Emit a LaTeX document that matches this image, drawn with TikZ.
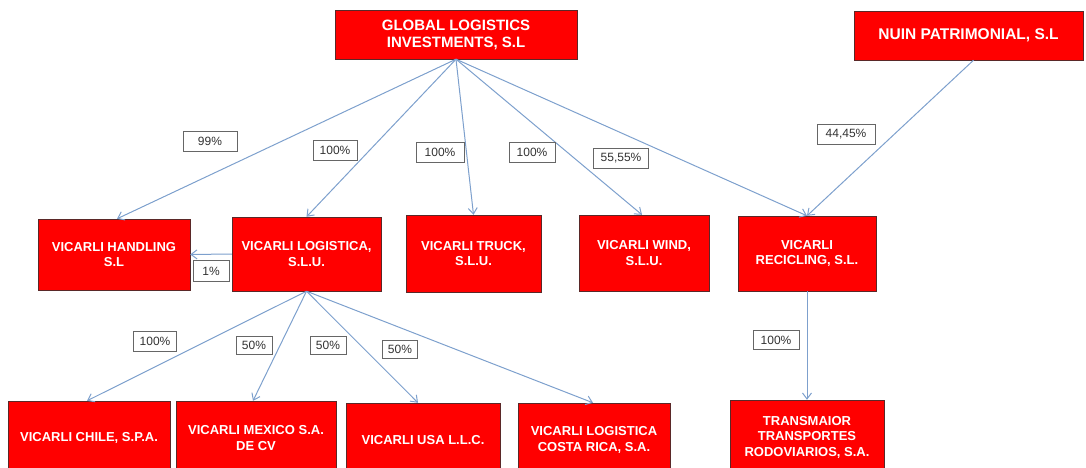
\documentclass[tikz,border=0pt]{standalone}
\usepackage{fontspec}
\setmainfont{Liberation Sans}
\usepackage{xcolor}
\usetikzlibrary{arrows.meta}

\definecolor{boxred}{RGB}{255,0,0}
\definecolor{boxline}{RGB}{90,40,40}
\definecolor{linkblue}{RGB}{125,160,205}

\begin{document}
\begin{tikzpicture}[
    x=1pt, y=-1pt,
    company/.style={
        rectangle,
        draw=boxline,
        fill=boxred,
        text=white,
        font=\fontsize{13}{15.5}\selectfont\bfseries,
        align=center,
        inner sep=0pt
    },
    share/.style={
        -{Straight Barb[length=6pt, width=9pt]},
        linkblue,
        line width=1pt
    },
    pct/.style={
        rectangle,
        draw=black!60,
        fill=white,
        line width=0.9pt,
        font=\fontsize{12}{13}\selectfont,
        text=black!80,
        inner sep=0pt
    }
]
\useasboundingbox (0,0) rectangle (1086,468);
\clip (0,0) rectangle (1086,468);

% Companies
\node[company, minimum width=242, minimum height=49, font=\fontsize{15}{17}\selectfont\bfseries] (global) at (456,34.5) {GLOBAL LOGISTICS\\INVESTMENTS, S.L};
\node[company, minimum width=229, minimum height=49, font=\fontsize{15.5}{17}\selectfont\bfseries] (nuin) at (968.5,35.5) {NUIN PATRIMONIAL, S.L};

\node[company, minimum width=152, minimum height=71] (handling) at (114,254.5) {VICARLI HANDLING\\S.L};
\node[company, minimum width=149, minimum height=74] (logistica) at (306.5,254) {VICARLI LOGISTICA,\\S.L.U.};
\node[company, minimum width=135, minimum height=77] (truck) at (473.5,253.5) {VICARLI TRUCK,\\S.L.U.};
\node[company, minimum width=130, minimum height=76] (wind) at (644,253) {VICARLI WIND,\\S.L.U.};
\node[company, minimum width=138, minimum height=75] (recicling) at (807,253.5) {VICARLI\\RECICLING, S.L.};

\node[company, minimum width=162, minimum height=74] (chile) at (89,438) {VICARLI CHILE, S.P.A.};
\node[company, minimum width=160, minimum height=74] (mexico) at (256,438) {VICARLI MEXICO S.A.\\DE CV};
\node[company, minimum width=154, minimum height=74] (usa) at (423,440) {VICARLI USA L.L.C.};
\node[company, minimum width=152, minimum height=74] (costa) at (594,440) {VICARLI LOGISTICA\\COSTA RICA, S.A.};
\node[company, minimum width=154, minimum height=74] (transmaior) at (807,437) {TRANSMAIOR\\TRANSPORTES\\RODOVIARIOS, S.A.};

% Shareholdings
\draw[share] (global.south) -- ([xshift=3]handling.north);
\draw[share] (global.south) -- (logistica.north);
\draw[share] (global.south) -- (truck.north);
\draw[share] (global.south) -- ([xshift=-2]wind.north);
\draw[share] (global.south) -- (recicling.north);
\draw[share] ([xshift=5]nuin.south) -- (recicling.north);
\draw[share] (logistica.west) -- (handling.east);
\draw[share] (logistica.south) -- ([xshift=-2]chile.north);
\draw[share] (logistica.south) -- ([xshift=-3]mexico.north);
\draw[share] (logistica.south) -- ([xshift=-5]usa.north);
\draw[share] (logistica.south) -- ([xshift=-1]costa.north);
\draw[share] (recicling.south) -- (transmaior.north);

% Percentages
\node[pct, minimum width=54, minimum height=20] (p99) at (210,141) {99\%};
\node[pct, minimum width=44, minimum height=20] (p100a) at (335,150) {100\%};
\node[pct, minimum width=48, minimum height=20] (p100b) at (440,152) {100\%};
\node[pct, minimum width=46, minimum height=20] (p100c) at (532,152) {100\%};
\node[pct, minimum width=55, minimum height=20] (p5555) at (621,158) {55,55\%};
\node[pct, minimum width=58, minimum height=20] (p4445) at (846,134) {44,45\%};
\node[pct, minimum width=36, minimum height=21] (p1) at (211,271) {1\%};
\node[pct, minimum width=43, minimum height=20] (p100d) at (155,341) {100\%};
\node[pct, minimum width=36, minimum height=18] (p50a) at (254,345) {50\%};
\node[pct, minimum width=36, minimum height=18] (p50b) at (328,345) {50\%};
\node[pct, minimum width=35, minimum height=18] (p50c) at (400,349) {50\%};
\node[pct, minimum width=46, minimum height=19] (p100e) at (776,340) {100\%};
\end{tikzpicture}
\end{document}
